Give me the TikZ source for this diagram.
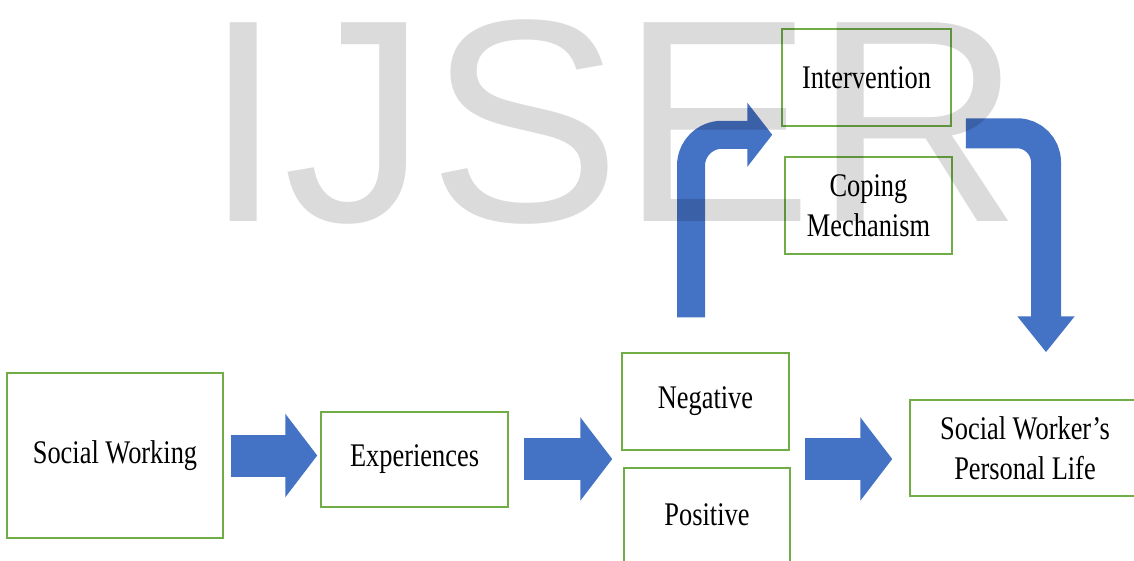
\documentclass[tikz,border=0pt]{standalone}
\usepackage{fontspec}
\setmainfont[FakeStretch=0.8]{Liberation Serif}
\setsansfont{Liberation Sans}
\usetikzlibrary{arrows.meta,calc}

\definecolor{boxgreen}{HTML}{70AD47}
\definecolor{arrowblue}{HTML}{4472C4}

\tikzset{
	box/.style={draw=boxgreen, line width=1.5pt, fill=white, inner sep=0pt,
		align=center, font=\fontsize{33}{40}\selectfont},
	blockarrow/.style={draw=arrowblue, line width=42pt,
		-{Triangle[length=32pt, width=82pt]}},
	bentarrow/.style={draw=arrowblue, line width=#1},
}

\begin{document}
\begin{tikzpicture}[x=1pt, y=-1pt]
	\def \W{1134}
	\def \H{560}

	\useasboundingbox (0,0) rectangle (\W,\H);
	\clip (0,0) rectangle (\W,\H);

	% Boxes
	\node[box, minimum width=216pt, minimum height=165pt] (sw) at (115,455.5) {Social Working};
	\node[box, minimum width=187pt, minimum height=95pt] (exp) at (414.5,459.5) {Experiences};
	\node[box, minimum width=167pt, minimum height=97pt] (neg) at (705.5,401.5) {Negative};
	\node[box, minimum width=166pt, minimum height=94pt] (pos) at (707,515) {Positive};
	\node[box, minimum width=169pt, minimum height=97pt] (int) at (866.5,77.5) {Intervention};
	\node[box, minimum width=167pt, minimum height=97pt] (cop) at (868.5,205.5) {Coping\\Mechanism};
	\node[box, minimum width=230pt, minimum height=96pt] (swpl) at (1025,448) {Social Worker's\\Personal Life};

	% Straight arrows
	\coordinate (np) at ($(neg.south west)!0.5!(pos.north west)$);
	\coordinate (npr) at ($(neg.south east)!0.5!(pos.north east)$);
	\draw[blockarrow, shorten <=7pt, shorten >=3pt] (sw.east) -- (sw.east -| exp.west);
	\draw[blockarrow, shorten <=15pt, shorten >=10pt] (exp.east |- np) -- (np);
	\draw[blockarrow, shorten <=15pt, shorten >=17pt] (npr) -- (npr -| swpl.west);

	% Bent arrows
	\coordinate (upstart) at ($(neg.north)+(-14.5,-35)$);
	\coordinate (uptip) at ($(int.south west)+(-9,8)$);
	\draw[bentarrow=28pt, rounded corners=31pt, -{Triangle[length=25pt, width=63pt]}]
		(upstart) |- (uptip);
	\coordinate (downstart) at ($(int.south east)+(14,6.5)$);
	\coordinate (downtip) at ($(swpl.north)+(21,-47)$);
	\draw[bentarrow=30pt, rounded corners=29pt, -{Triangle[length=36pt, width=55pt]}]
		(downstart) -| (downtip);

	% Watermark
	\node[anchor=base west, inner sep=0pt, font=\sffamily\fontsize{289}{289}\selectfont,
		text=black, opacity=0.14] (wm) at (203,221) {IJSER};
\end{tikzpicture}
\end{document}
